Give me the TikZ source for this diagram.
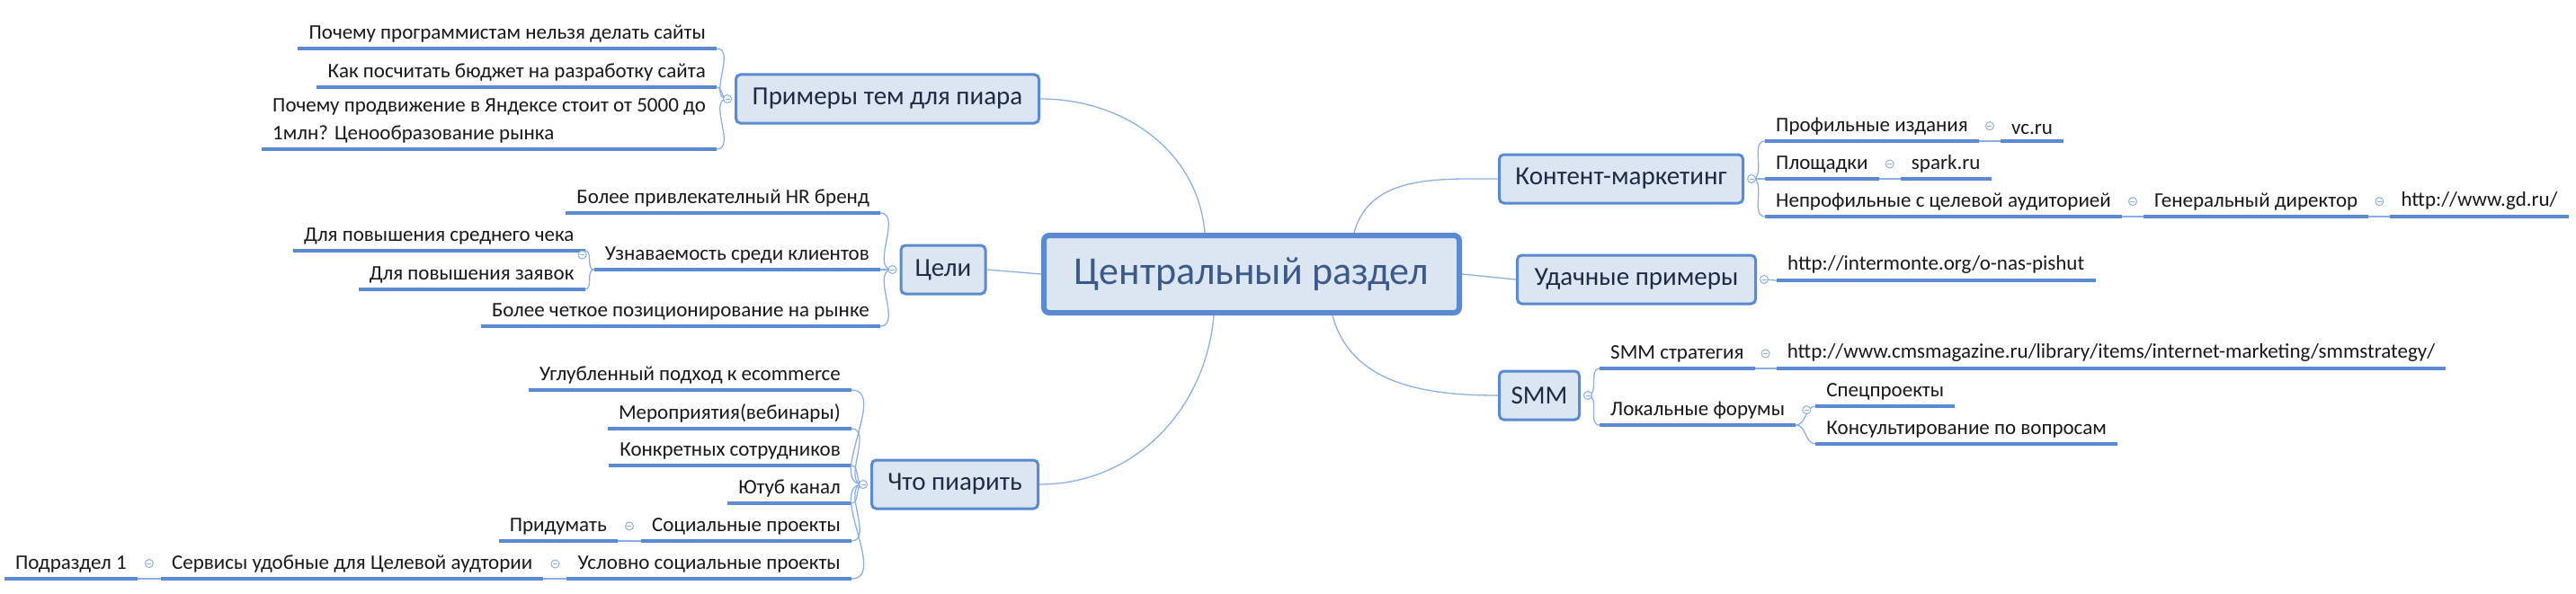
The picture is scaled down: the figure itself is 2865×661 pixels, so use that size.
\documentclass[tikz,border=0pt]{standalone}
\usepackage{fontspec}
\setmainfont{Carlito}
\definecolor{ul}{HTML}{5A8AD2}
\definecolor{cn}{HTML}{8CB0E4}
\definecolor{bx}{HTML}{DCE6F3}
\definecolor{tt}{HTML}{1E2B45}
\definecolor{ct}{HTML}{3B5A8A}
\tikzset{
  leaf/.style={font=\fontsize{23}{31}\selectfont, text=black!90, inner xsep=12pt, inner ysep=7pt, align=left,
    append after command={\pgfextra{\draw[ul,line width=4pt] (\tikzlastnode.south west) -- (\tikzlastnode.south east);}}},
  lleaf/.style={leaf, anchor=south east},
  rleaf/.style={leaf, anchor=south west},
  topic/.style={draw=ul, line width=3pt, fill=bx, rounded corners=5pt, text=tt, font=\fontsize{29}{33}\selectfont, minimum height=54pt},
  conn/.style={cn, line width=1.3pt},
  mk/.style={circle, draw=cn, fill=white, line width=1pt, minimum size=9pt, inner sep=0pt,
    path picture={\draw[cn,line width=0.8pt] ([xshift=-2.5pt]path picture bounding box.center) -- ([xshift=2.5pt]path picture bounding box.center);}},
}
\begin{document}
\begin{tikzpicture}[x=1pt,y=-1pt]
\useasboundingbox (0,0) rectangle (2865,661);
% central
\node[draw=ul, line width=6pt, fill=bx, rounded corners=6pt, text=ct, font=\fontsize{44}{48}\selectfont, minimum width=462pt, minimum height=86pt] (c) at (1392,305) {Центральный раздел};
% topics
\node[topic, minimum width=337pt] (pr) at (987,110) {Примеры тем для пиара};
\node[topic, minimum width=94pt] (ce) at (1049,300) {Цели};
\node[topic, minimum width=185pt] (ch) at (1062,539) {Что пиарить};
\node[topic, minimum width=271pt] (k) at (1803,199) {Контент-маркетинг};
\node[topic, minimum width=265pt] (u) at (1820,311) {Удачные примеры};
\node[topic, minimum width=89pt] (s) at (1712,440) {SMM};
% central connectors
\draw[conn] ([xshift=-52pt]c.north) to[out=95,in=0] (pr.east);
\draw[conn] (c.west) -- (ce.east);
\draw[conn] ([xshift=-42pt]c.south) to[out=-95,in=0] (ch.east);
\draw[conn] ([xshift=114pt]c.north) to[out=75,in=180] (k.west);
\draw[conn] (c.east) -- (u.west);
\draw[conn] ([xshift=90pt]c.south) to[out=-75,in=180] (s.west);
% left leaves
\node[lleaf] (p1) at (797,54) {Почему программистам нельзя делать сайты};
\node[lleaf] (p2) at (797,97) {Как посчитать бюджет на разработку сайта};
\node[lleaf] (p3) at (797,166) {Почему продвижение в Яндексе стоит от 5000 до\\1млн? Ценообразование рынка};
\node[lleaf] (c1) at (979,237) {Более привлекателный HR бренд};
\node[lleaf] (c2) at (979,300) {Узнаваемость среди клиентов};
\node[lleaf] (c3) at (979,363) {Более четкое позиционирование на рынке};
\node[lleaf] (c21) at ([xshift=-10pt,yshift=21pt]c2.south west) {Для повышения среднего чека};
\node[lleaf] (c22) at ([xshift=-10pt,yshift=-22pt]c2.south west) {Для повышения заявок};
\node[lleaf] (w1) at (947,434) {Углубленный подход к ecommerce};
\node[lleaf] (w2) at (947,477) {Мероприятия(вебинары)};
\node[lleaf] (w3) at (947,518) {Конкретных сотрудников};
\node[lleaf] (w4) at (947,560) {Ютуб канал};
\node[lleaf] (w5) at (947,602) {Социальные проекты};
\node[lleaf] (w6) at (947,644) {Условно социальные проекты};
\node[lleaf] (w51) at ([xshift=-26pt]w5.south west) {Придумать};
\node[lleaf] (w61) at ([xshift=-26pt]w6.south west) {Сервисы удобные для Целевой аудтории};
\node[lleaf] (w62) at ([xshift=-26pt]w61.south west) {Подраздел 1};
% right leaves
\node[rleaf] (k1) at (1963,157) {Профильные издания};
\node[rleaf] (k2) at (1963,199) {Площадки};
\node[rleaf] (k3) at (1963,241) {Непрофильные с целевой аудиторией};
\node[rleaf] (k11) at ([xshift=24pt]k1.south east) {vc.ru};
\node[rleaf] (k21) at ([xshift=24pt]k2.south east) {spark.ru};
\node[rleaf] (k31) at ([xshift=24pt]k3.south east) {Генеральный директор};
\node[rleaf] (k32) at ([xshift=24pt]k31.south east) {http://www.gd.ru/};
\node[rleaf] (u1) at (1976,312) {http://intermonte.org/o-nas-pishut};
\node[rleaf] (s1) at (1779,410) {SMM стратегия};
\node[rleaf] (s2) at (1779,473) {Локальные форумы};
\node[rleaf] (s11) at ([xshift=24pt]s1.south east) {http://www.cmsmagazine.ru/library/items/internet-marketing/smmstrategy/};
\node[rleaf] (s21) at ([xshift=22pt,yshift=21pt]s2.south east) {Спецпроекты};
\node[rleaf] (s22) at ([xshift=22pt,yshift=-21pt]s2.south east) {Консультирование по вопросам};
% leaf connectors
\foreach \a/\b in {pr/p1,pr/p2,pr/p3,ce/c1,ce/c2,ce/c3,ch/w1,ch/w2,ch/w3,ch/w4,ch/w5,ch/w6}
  \draw[conn] ([xshift=-8pt]\a.west) to[out=180,in=0] (\b.south east);
\foreach \a/\b in {c2/c21,c2/c22,w5/w51,w6/w61,w61/w62}
  \draw[conn] (\a.south west) to[out=180,in=0] (\b.south east);
\foreach \a/\b in {k/k1,k/k2,k/k3,u/u1,s/s1,s/s2}
  \draw[conn] ([xshift=8pt]\a.east) to[out=0,in=180] (\b.south west);
\foreach \a/\b in {k1/k11,k2/k21,k3/k31,k31/k32,s1/s11,s2/s21,s2/s22}
  \draw[conn] (\a.south east) to[out=0,in=180] (\b.south west);
% markers
\foreach \a in {pr,ce,ch} \node[mk] at ([xshift=-8pt]\a.west) {};
\foreach \a in {k,u,s} \node[mk] at ([xshift=8pt]\a.east) {};
\foreach \a in {c2,w5,w6,w61} \node[mk] at ([xshift=-13pt]\a.west) {};
\foreach \a in {k1,k2,k3,k31,s1,s2} \node[mk] at ([xshift=12pt]\a.east) {};
\end{tikzpicture}
\end{document}
